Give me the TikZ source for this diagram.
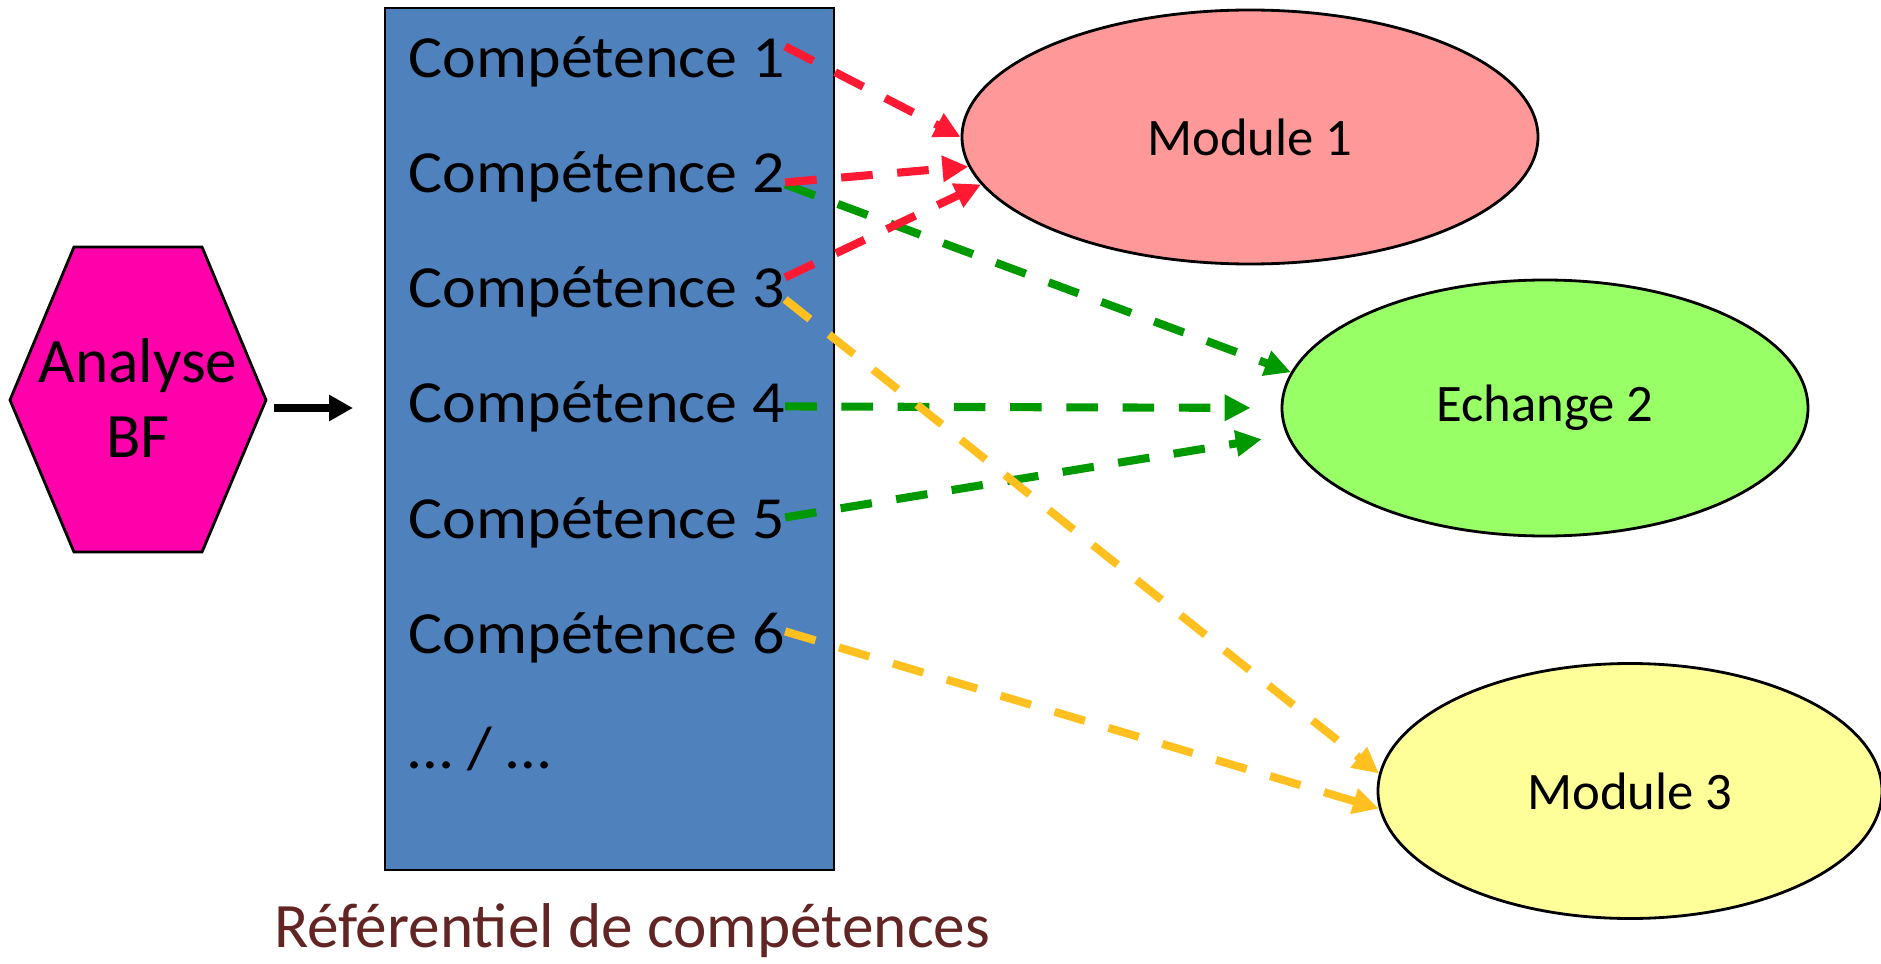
\documentclass[tikz,border=0pt]{standalone}
\usepackage{fontspec}
\setmainfont{Carlito}
\newfontfamily\compfont[FakeStretch=1.07]{Carlito}
\usetikzlibrary{shapes.geometric,arrows.meta}
\definecolor{refblue}{RGB}{79,129,189}
\definecolor{bfpink}{RGB}{255,0,170}
\definecolor{modred}{RGB}{255,153,153}
\definecolor{modgreen}{RGB}{153,255,102}
\definecolor{modyellow}{RGB}{255,255,153}
\definecolor{linkred}{RGB}{255,25,51}
\definecolor{linkgreen}{RGB}{0,153,0}
\definecolor{linkyellow}{RGB}{255,192,32}
\definecolor{titlebrown}{RGB}{99,37,35}
\begin{document}
\begin{tikzpicture}[
  comp/.style={anchor=base west, inner sep=0pt, font=\compfont\fontsize{17}{20}\selectfont},
  module/.style={ellipse, draw, line width=0.8pt, font=\fontsize{15}{18}\selectfont},
  link/.style={->, >={Triangle[length=0.26cm,width=0.25cm]}, line width=2.3pt, dash pattern=on 9pt off 7pt},
]
\useasboundingbox (0,0) rectangle (18.81,-9.64);
\draw[fill=bfpink, line width=0.8pt] (0.10,-4.00) -- (0.74,-2.47) -- (2.02,-2.47) -- (2.66,-4.00) -- (2.02,-5.52) -- (0.74,-5.52) -- cycle;
\node[align=center, font=\fontsize{18}{21.6}\selectfont] (bf) at (1.38,-3.98) {Analyse\\BF};
\coordinate (bfout) at (2.74,-4.08);
\coordinate (refin) at (3.53,-4.08);

\node[draw, fill=refblue, line width=0.7pt, minimum width=4.49cm, minimum height=8.62cm, inner sep=0pt] (ref) at (6.095,-4.39) {};
\node[comp] (c1) at (4.08,-0.77) {Compétence 1};
\node[comp] (c2) at (4.08,-1.92) {Compétence 2};
\node[comp] (c3) at (4.08,-3.07) {Compétence 3};
\node[comp] (c4) at (4.08,-4.22) {Compétence 4};
\node[comp] (c5) at (4.08,-5.38) {Compétence 5};
\node[comp] (c6) at (4.08,-6.53) {Compétence 6};
\node[comp] (etc) at (4.08,-7.68) {… / …};
\node[anchor=base, text=titlebrown, font=\fontsize{18}{21.6}\selectfont] (reftitle) at (6.32,-9.47) {Référentiel de compétences};

\node[module, fill=modred, minimum width=5.76cm, minimum height=2.54cm] (m1) at (12.50,-1.37) {Module 1};
\node[module, fill=modgreen, minimum width=5.26cm, minimum height=2.56cm] (e2) at (15.45,-4.08) {Echange 2};
\node[module, fill=modyellow, minimum width=5.04cm, minimum height=2.55cm] (m3) at (16.30,-7.91) {Module 3};

\draw[->, >={Triangle[length=0.24cm,width=0.25cm]}, line width=2.5pt] (bfout)--(refin);

\draw[link, linkgreen] ([yshift=-0.08cm]c2.east)--(e2.172);
\draw[link, linkgreen, shorten >=0.3cm] (c4.east)--(e2.west);
\draw[link, linkgreen, shorten >=0.25cm] ([yshift=0.05cm]c5.east)--(e2.186);
\draw[link, linkyellow] ([yshift=-0.08cm]c3.east)--(m3.176);
\draw[link, linkyellow] ([yshift=0.06cm]c6.east)--(m3.184);
\draw[link, linkred] ([yshift=0.15cm]c1.east)--(m1.west);
\draw[link, linkred] ([yshift=-0.06cm]c2.east)--(m1.186);
\draw[link, linkred] ([yshift=0.14cm]c3.east)--(m1.190);
\end{tikzpicture}
\end{document}
